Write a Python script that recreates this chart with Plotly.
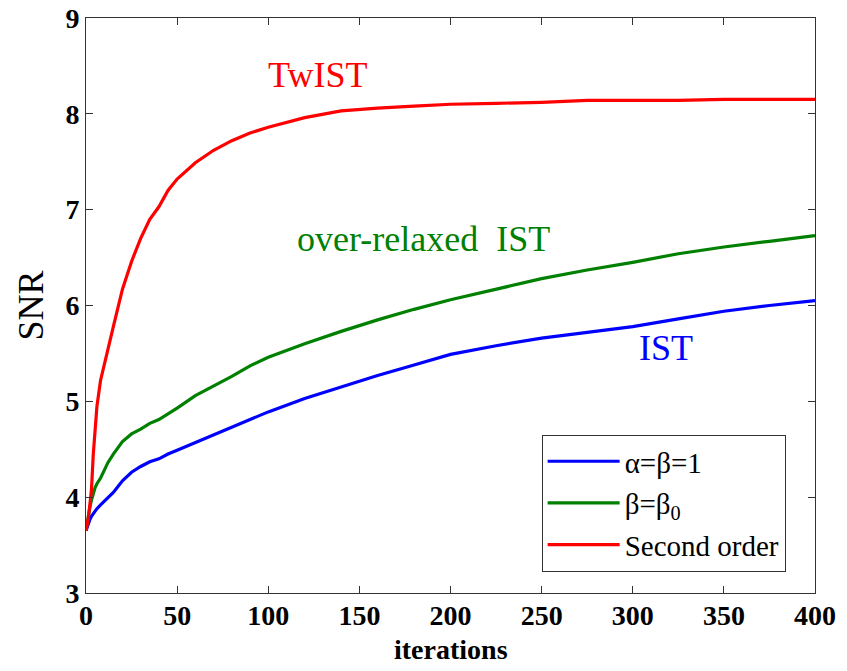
import plotly.graph_objects as go

iters = [0, 1, 2, 3, 4, 5, 6, 8, 10, 12, 15, 20, 25, 30, 35, 40, 45, 50, 60, 70, 80, 90,
         100, 120, 140, 160, 180, 200, 225, 250, 275, 300, 325, 350, 375, 400]

snr_ist = [3.65, 3.72, 3.76, 3.80, 3.83, 3.85, 3.88, 3.92, 3.96, 3.99, 4.05, 4.17, 4.26, 4.32,
           4.37, 4.40, 4.45, 4.49, 4.57, 4.65, 4.73, 4.81, 4.89, 5.03, 5.15, 5.27, 5.38, 5.49,
           5.58, 5.66, 5.72, 5.78, 5.86, 5.94, 6.00, 6.05]

snr_over = [3.65, 3.78, 3.88, 3.97, 4.05, 4.10, 4.14, 4.20, 4.28, 4.36, 4.45, 4.58, 4.66, 4.71,
            4.77, 4.81, 4.87, 4.93, 5.06, 5.16, 5.26, 5.37, 5.46, 5.60, 5.73, 5.85, 5.96, 6.06,
            6.17, 6.28, 6.37, 6.45, 6.54, 6.61, 6.67, 6.73]

snr_twist = [3.65, 3.75, 3.90, 4.08, 4.45, 4.75, 4.95, 5.22, 5.40, 5.54, 5.78, 6.17, 6.46, 6.70,
             6.90, 7.03, 7.20, 7.32, 7.49, 7.62, 7.72, 7.80, 7.86, 7.96, 8.03, 8.06, 8.08, 8.10,
             8.11, 8.12, 8.14, 8.14, 8.14, 8.15, 8.15, 8.15]

legend_names = ["α=β=1", "β=β<sub>0</sub>", "Second order"]
curve_labels = ["IST", "over-relaxed  IST", "TwIST"]
label_x = [318, 185, 127]
label_y = [5.56, 6.69, 8.41]
colors = ["#0000FF", "#008000", "#FF0000"]

FONT = "Liberation Serif, Times New Roman, serif"

fig = go.Figure()
for name, ys, c in zip(legend_names, [snr_ist, snr_over, snr_twist], colors):
    fig.add_trace(go.Scatter(x=iters, y=ys, mode="lines", name=name,
                             line=dict(color=c, width=3.2), legendgroup=name))

for txt, xx, yy, c in zip(curve_labels, label_x, label_y, colors):
    fig.add_annotation(x=xx, y=yy, text=txt, showarrow=False, xanchor="center", yanchor="middle",
                       font=dict(family=FONT, size=36, color=c))

# x-axis title placed close under tick labels
fig.add_annotation(x=0.5, y=-0.098, xref="paper", yref="paper", text="<b>iterations</b>",
                   showarrow=False, xanchor="center", yanchor="middle",
                   font=dict(family=FONT, size=28, color="black"))

axis_common = dict(showline=True, linecolor="#333333", linewidth=1, mirror="ticks",
                   ticks="inside", ticklen=7, tickcolor="#333333", showgrid=False,
                   zeroline=False, automargin=False,
                   tickfont=dict(family=FONT, size=28, color="black", weight="bold"))

fig.update_xaxes(range=[0, 400], dtick=50, tick0=0, ticklabelstandoff=-3, **axis_common)
fig.update_yaxes(range=[3, 9], dtick=1, tick0=3,
                 title=dict(text="SNR", font=dict(family=FONT, size=36, color="black"), standoff=10),
                 **axis_common)

fig.update_layout(
    width=847, height=671,
    margin=dict(l=86, r=32, t=18, b=78),
    paper_bgcolor="white", plot_bgcolor="white",
    showlegend=True,
    legend=dict(x=0.625, y=0.275, xanchor="left", yanchor="top",
                bgcolor="white", bordercolor="#333333", borderwidth=1,
                font=dict(family=FONT, size=29, color="black"),
                tracegroupgap=1, itemwidth=72),
)

fig.write_html("out.html")
